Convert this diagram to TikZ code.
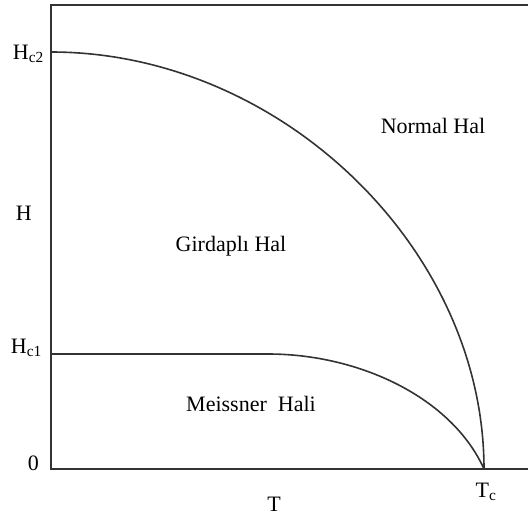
\documentclass[tikz,border=0pt]{standalone}
\usepackage{fontspec}
\setmainfont{Liberation Serif}
\begin{document}
\begin{tikzpicture}[x=1pt,y=-1pt,
  axis/.style={line width=2pt,color=black!80},
  curve/.style={line width=1.6pt,color=black!80},
  lbl/.style={inner sep=0pt,text depth=0pt,font=\fontsize{22}{26}\selectfont,anchor=base}]
\useasboundingbox (0,0) rectangle (528,515);
% frame / axes
\coordinate (tl) at (51,5);
\coordinate (tr) at (529,5);
\coordinate (o) at (51,469);
\coordinate (br) at (529,469);
\coordinate (hc2) at (51,52);
\coordinate (hc1) at (51,354);
\coordinate (flat) at (268,354);
\coordinate (tc) at (484,469);
\draw[axis] (tr) -- (tl) -- (o) -- (br);
% Hc2 curve
\draw[curve] (hc2) .. controls (280,52) and (484,248) .. (tc);
% Hc1 curve
\draw[curve] (hc1) -- (flat) .. controls (360,354) and (452,398) .. (tc);
% labels
\node[lbl,anchor=base east] (lhc2) at (44,59) {H\textsubscript{c2}};
\node[lbl,anchor=base east] (lh) at (32,220) {H};
\node[lbl,anchor=base east] (lhc1) at (42,353) {H\textsubscript{c1}};
\node[lbl,anchor=base east] (l0) at (39,470) {0};
\node[lbl] (ltc) at (486,497) {T\textsubscript{c}};
\node[lbl] (lt) at (274,511) {T};
\node[lbl] (lnorm) at (433,133) {Normal Hal};
\node[lbl] (lgird) at (231,251) {Girdaplı Hal};
\node[lbl] (lmeis) at (251,411) {Meissner\ \ Hali};
\end{tikzpicture}
\end{document}
